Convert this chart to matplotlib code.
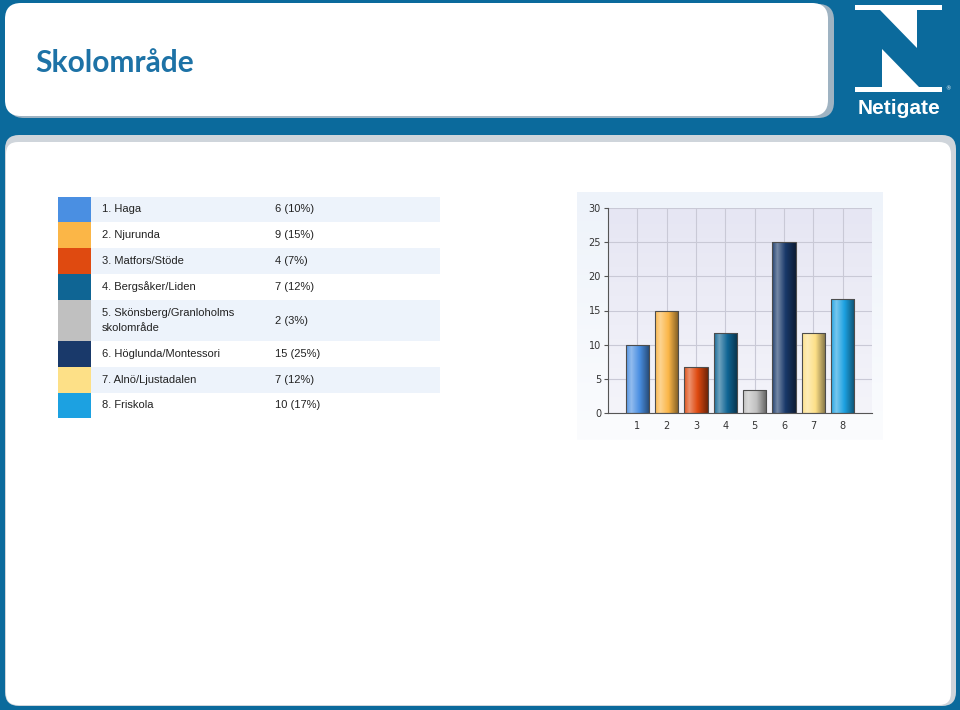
import numpy as np
import matplotlib.pyplot as plt
from matplotlib.patches import FancyBboxPatch, Rectangle, Polygon
from matplotlib.colors import to_rgb, LinearSegmentedColormap

# table / chart data
schools = ["1. Haga", "2. Njurunda", "3. Matfors/Stöde", "4. Bergsåker/Liden",
           "5. Skönsberg/Granloholms\nskolområde", "6. Höglunda/Montessori",
           "7. Alnö/Ljustadalen", "8. Friskola"]
counts = [6, 9, 4, 7, 2, 15, 7, 10]
percents = [10, 15, 7, 12, 3, 25, 12, 17]
bar_values = [10, 15, 6.7, 11.7, 3.3, 25, 11.7, 16.7]
bar_labels = ["1", "2", "3", "4", "5", "6", "7", "8"]
colors = ["#4a8fe2", "#fbb647", "#df4a10", "#0f6594", "#c0c0c0",
          "#19396a", "#fde087", "#1ca1e1"]
y_ticks = [0, 5, 10, 15, 20, 25, 30]

BLUE = "#0b6a9c"


def shade(c, s):
    # s > 0 mixes with white, s < 0 mixes with black
    r = np.array(to_rgb(c))
    if s >= 0:
        return r + (1 - r) * s
    return r * (1 + s)


fig = plt.figure(figsize=(9.6, 7.1), dpi=100)
fig.patch.set_facecolor(BLUE)

# background in pixel coordinates
bg = fig.add_axes([0, 0, 1, 1])
bg.set_xlim(0, 960)
bg.set_ylim(710, 0)
bg.axis("off")

# top panel with shadow
bg.add_patch(FancyBboxPatch((8, 4), 826, 114, boxstyle="round,pad=0,rounding_size=16",
                            fc="#9fb3c2", ec="none"))
bg.add_patch(FancyBboxPatch((5, 3), 823, 113, boxstyle="round,pad=0,rounding_size=16",
                            fc="white", ec="none"))
bg.text(35, 63, "Skolområde", fontsize=21.5, fontweight="bold", family="Lato",
        color="#1d72a6", va="center", ha="left")

# lower panel
bg.add_patch(FancyBboxPatch((5, 135), 951, 571, boxstyle="round,pad=0,rounding_size=14",
                            fc="#cfd5db", ec="none"))
bg.add_patch(FancyBboxPatch((6, 142), 945, 563, boxstyle="round,pad=0,rounding_size=12",
                            fc="white", ec="none"))

# logo
bg.add_patch(Rectangle((855, 5), 87, 5, fc="white", ec="none"))
bg.add_patch(Rectangle((855, 87), 87, 5, fc="white", ec="none"))
bg.add_patch(Polygon([(880, 10), (917, 10), (917, 48)], fc="white", ec="none"))
bg.add_patch(Polygon([(882, 49), (882, 87), (919, 87)], fc="white", ec="none"))
bg.text(948, 89, "®", fontsize=4, color="white", ha="center", va="center")
bg.text(899, 108, "Netigate", fontsize=15, fontweight="bold", family="Liberation Sans",
        color="white", ha="center", va="center")

# table
row_heights = [25, 26, 26, 26, 41, 26, 26, 25]
y = 197
for i, (name, n, p, c) in enumerate(zip(schools, counts, percents, colors)):
    h = row_heights[i]
    bg.add_patch(Rectangle((58, y), 33, h, fc=c, ec="none"))
    if i % 2 == 0:
        bg.add_patch(Rectangle((91, y), 349, h, fc="#edf3fb", ec="none"))
    yc = y + h / 2
    bg.text(102, yc, name, fontsize=8, family="Liberation Sans", color="#222222",
            va="center", ha="left", linespacing=1.65)
    bg.text(275, yc, f"{n} ({p}%)", fontsize=8, family="Liberation Sans",
            color="#222222", va="center", ha="left")
    y += h

# chart image box
bg.imshow(np.linspace(0, 1, 100)[:, None], extent=[577, 883, 440, 192],
          cmap=LinearSegmentedColormap.from_list("box", ["#eef3fa", "#fbfcfe"]),
          aspect="auto", zorder=1)

# bar chart
ax = fig.add_axes([608 / 960, 1 - 413 / 710, 264 / 960, 205 / 710])
ax.set_facecolor("none")
ax.imshow(np.linspace(0, 1, 100)[:, None], extent=[0, 1, 0, 1], transform=ax.transAxes,
          cmap=LinearSegmentedColormap.from_list("plot", ["#e6e6f3", "#f4f4fa"]),
          aspect="auto", zorder=0)

x = np.arange(1, len(bar_values) + 1)
bars = ax.bar(x, bar_values, width=0.8, fc="none", ec="#4d4d4d", lw=0.8, zorder=4)
t = np.linspace(0, 1, 60)
s = np.interp(t, [0, 0.22, 1], [0.05, 0.4, -0.5])
for b, c in zip(bars, colors):
    g = np.array([shade(c, v) for v in s])[None, :, :]
    im = ax.imshow(g, extent=[b.get_x(), b.get_x() + b.get_width(), 0, b.get_height()],
                   aspect="auto", zorder=3)
    clip = Rectangle((b.get_x(), 0), b.get_width(), b.get_height(), transform=ax.transData)
    im.set_clip_path(clip)

ax.set_xlim(0, 9)
ax.set_ylim(0, 30)
ax.set_aspect("auto")
ax.set_xticks(x)
ax.set_xticklabels(bar_labels)
ax.set_yticks(y_ticks)
ax.grid(True, color="#c9c9d6", lw=0.8, zorder=1)
ax.set_axisbelow(True)
for side in ["top", "right"]:
    ax.spines[side].set_visible(False)
for side in ["left", "bottom"]:
    ax.spines[side].set_color("#555555")
    ax.spines[side].set_linewidth(0.8)
    ax.spines[side].set_zorder(5)
ax.tick_params(axis="y", length=3, color="#555555", labelsize=7, labelcolor="#333333", pad=2)
ax.tick_params(axis="x", length=0, labelsize=7, labelcolor="#333333", pad=6)

fig.savefig("out.png", dpi=100, facecolor=fig.get_facecolor())
